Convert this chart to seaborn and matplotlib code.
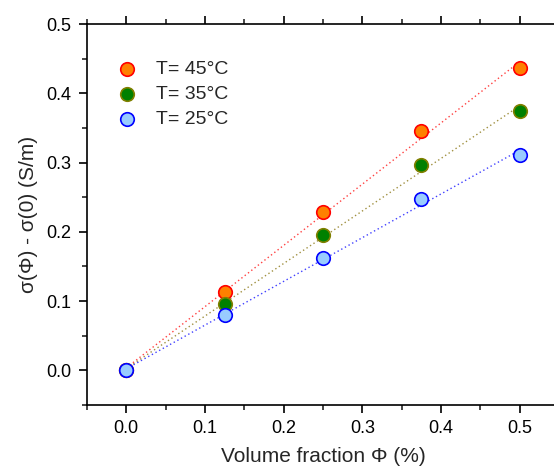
import numpy as np
import pandas as pd
import matplotlib
matplotlib.use("Agg")
import matplotlib.pyplot as plt
from matplotlib.ticker import MultipleLocator, FormatStrFormatter
import seaborn as sns

# data
phi = [0.0, 0.125, 0.25, 0.375, 0.5]
sigma_45 = [0.0, 0.113, 0.228, 0.346, 0.436]
sigma_35 = [0.0, 0.096, 0.195, 0.296, 0.374]
sigma_25 = [0.0, 0.080, 0.162, 0.247, 0.311]
labels = ["T= 45°C", "T= 35°C", "T= 25°C"]

sns.set_theme(style="ticks")
plt.rcParams['font.family'] = ['Liberation Sans', 'DejaVu Sans']

# style per series: fill, edge, line colour
styles = [
    ("#FF8000", "#FF0000", "#FF4040"),
    ("#008000", "#808000", "#A09040"),
    ("#99CCFF", "#0000FF", "#4040FF"),
]

fig = plt.figure(figsize=(5.54, 4.72), dpi=100)
ax = fig.add_axes([0.157, 0.142, 0.852, 0.807])

handles = []
for vals, lab, (fc, ec, lc) in zip([sigma_45, sigma_35, sigma_25], labels, styles):
    df = pd.DataFrame({"phi": phi, "sigma": vals})
    sns.regplot(data=df, x="phi", y="sigma", ci=None, scatter=False, ax=ax,
                line_kws=dict(color=lc, ls=(0, (1, 2)), lw=1.0, zorder=2))
    h = ax.scatter(df["phi"], df["sigma"], s=95, c=fc, edgecolors=ec,
                   linewidths=1.2, zorder=3, label=lab)
    handles.append(h)

ax.set_xlim(-0.05, 0.55)
ax.set_ylim(-0.05, 0.5)
ax.xaxis.set_major_locator(MultipleLocator(0.1))
ax.xaxis.set_minor_locator(MultipleLocator(0.05))
ax.yaxis.set_major_locator(MultipleLocator(0.1))
ax.yaxis.set_minor_locator(MultipleLocator(0.05))
ax.xaxis.set_major_formatter(FormatStrFormatter('%.1f'))
ax.yaxis.set_major_formatter(FormatStrFormatter('%.1f'))

ax.tick_params(which='major', direction='out', length=6, width=1.2,
               labelsize=13, colors='black', top=True, labeltop=False, pad=5)
ax.tick_params(which='minor', direction='out', length=3.5, width=1.2,
               top=True)
for side in ['left', 'bottom', 'top']:
    ax.spines[side].set_linewidth(1.2)
    ax.spines[side].set_color('black')
ax.spines['right'].set_visible(False)

ax.set_xlabel("Volume fraction Φ (%)", fontsize=15, labelpad=7)
ax.set_ylabel("σ(Φ) - σ(0) (S/m)", fontsize=15, labelpad=6)

ax.legend(handles=handles, loc='upper left', frameon=False, fontsize=14,
          bbox_to_anchor=(0.015, 0.94), handletextpad=0.5, labelspacing=0.38,
          borderaxespad=0.3)

fig.savefig("out.png", dpi=100)
